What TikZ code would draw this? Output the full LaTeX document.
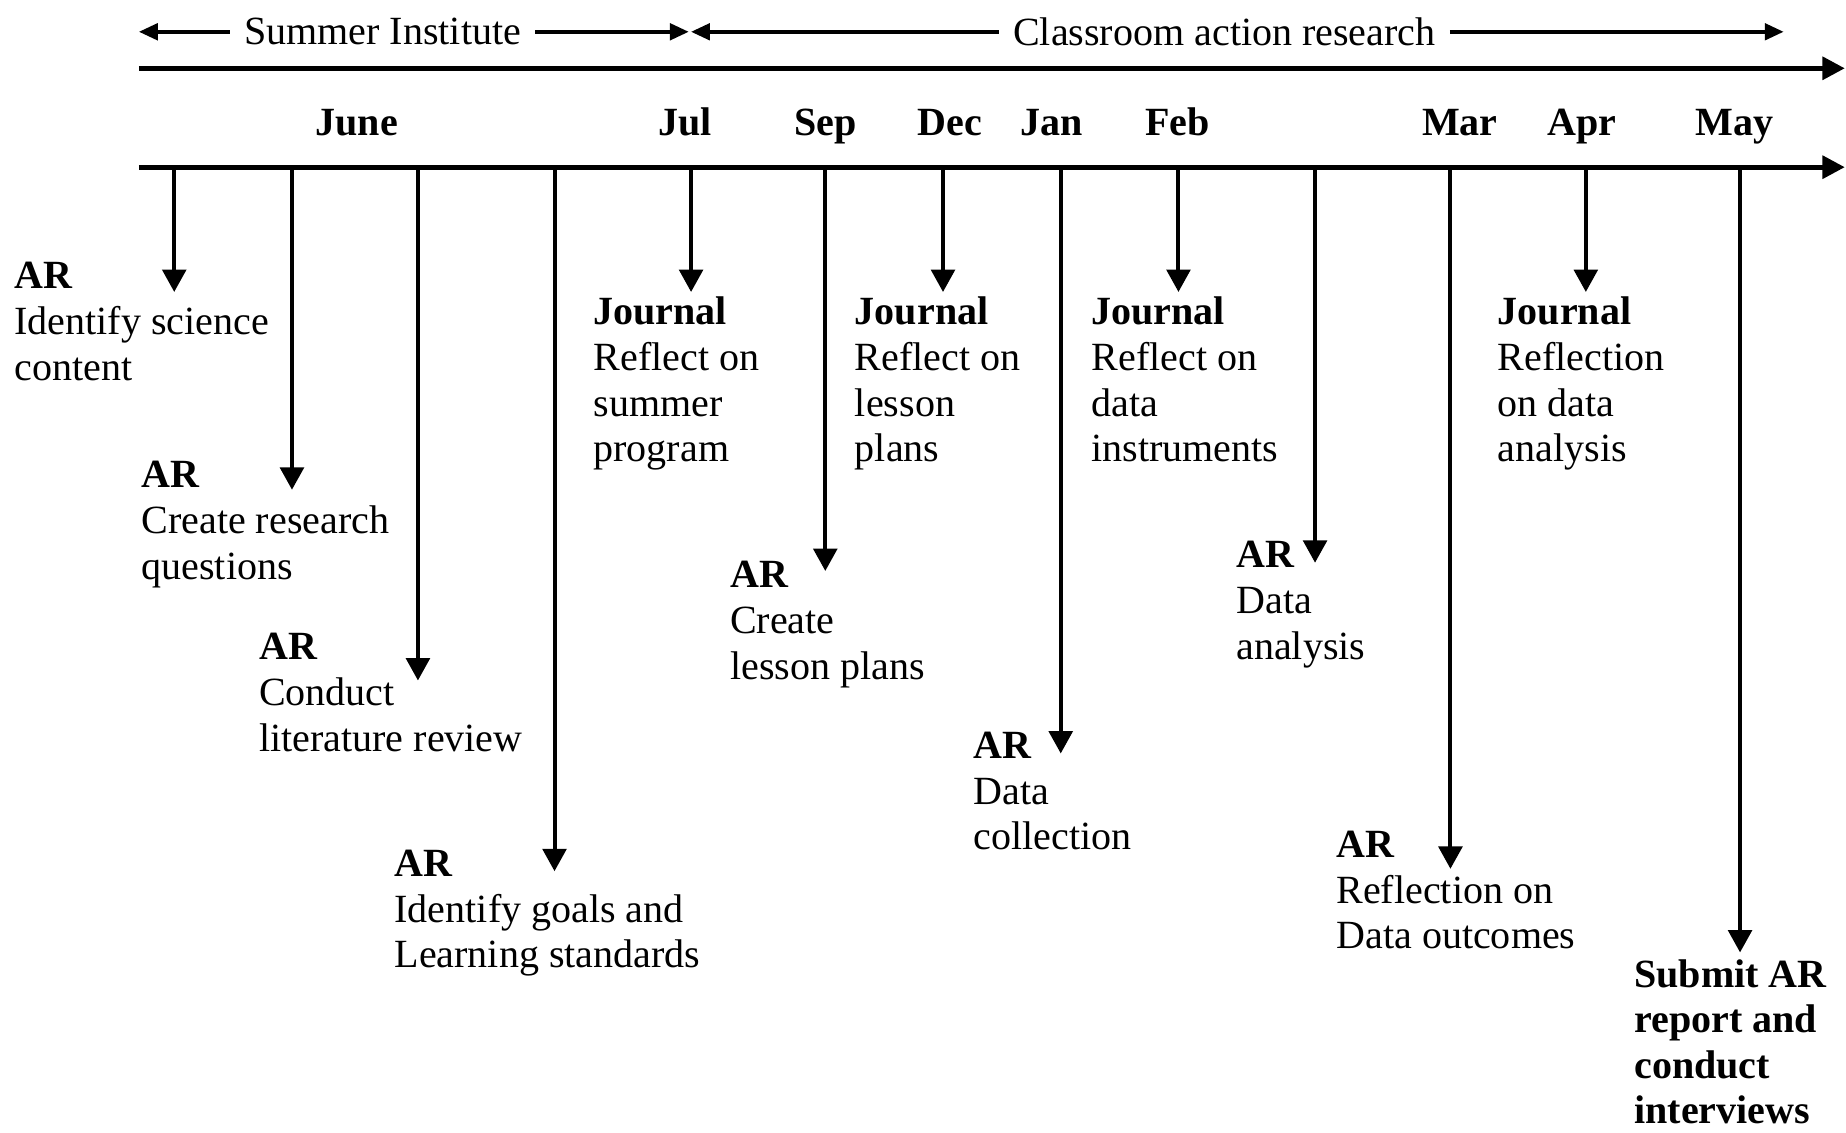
\documentclass[tikz,border=0pt]{standalone}
\usepackage{fontspec}
\setmainfont{Liberation Serif}
\usetikzlibrary{arrows.meta}

\begin{document}
\begin{tikzpicture}[x=1pt,y=-1pt,
  every node/.style={inner sep=0pt, font=\fontsize{34}{38.8}\selectfont},
  lbl/.style={anchor=north west, align=left},
  month/.style={anchor=base, font=\fontsize{34}{38.8}\selectfont\bfseries},
  axis/.style={line width=4.2pt, -{Triangle[length=19pt,width=19pt]}},
  drop/.style={line width=3.4pt, -{Triangle[length=19pt,width=20pt]}},
  span/.style={line width=3pt, -{Triangle[length=16pt,width=14pt]}},
]
\fill[white] (0,0) rectangle (1568,962);
\useasboundingbox (0,0) rectangle (1568,962);

% period spans
\node[inner xsep=12pt] (si) at (325,27) {Summer Institute};
\node[inner xsep=12pt] (car) at (1040,27) {Classroom action research};
\coordinate (siL) at (118,27);
\coordinate (siR) at (585,27);
\coordinate (carL) at (587,27);
\coordinate (carR) at (1515,27);
\draw[span] (si.west) -- (siL);
\draw[span] (si.east) -- (siR);
\draw[span] (car.west) -- (carL);
\draw[span] (car.east) -- (carR);

% time axes
\coordinate (a0) at (118,58);
\coordinate (a1) at (1567,58);
\coordinate (b0) at (118,142);
\coordinate (b1) at (1567,142);
\draw[axis] (a0) -- (a1);
\draw[axis] (b0) -- (b1);

% months
\foreach \m/\x in {June/303, Jul/582, Sep/701, Dec/807, Jan/893, Feb/1000, Mar/1240, Apr/1344, May/1473}
  \node[month] (m\m) at (\x,115) {\m};

% drop arrows from the axis
\foreach \i/\x/\y in {1/148/248, 2/248/416, 3/355/578, 4/471/740, 5/587/248, 6/701/485,
                      7/801/248, 8/901/640, 9/1001/248, 10/1117/478, 11/1232/738,
                      12/1347/248, 13/1478/809} {
  \coordinate (t\i) at (\x,142);
  \coordinate (e\i) at (\x,\y);
  \draw[drop] (t\i) -- (e\i);
}

% activity labels (top edge of the first line)
\node[lbl] (n1) at (12,222.7) {\textbf{AR}\\Identify science\\content};
\node[lbl] (n2) at (120,391.7) {\textbf{AR}\\Create research\\questions};
\node[lbl] (n3) at (220,537.7) {\textbf{AR}\\Conduct\\literature review};
\node[lbl] (n4) at (335,721.7) {\textbf{AR}\\Identify goals and\\Learning standards};
\node[lbl] (n5) at (504,252) {\textbf{Journal}\\Reflect on\\summer\\program};
\node[lbl] (n6) at (620,476.7) {\textbf{AR}\\Create\\lesson plans};
\node[lbl] (n7) at (726,252) {\textbf{Journal}\\Reflect on\\lesson\\plans};
\node[lbl] (n8) at (827,621.7) {\textbf{AR}\\Data\\collection};
\node[lbl] (n9) at (927,252) {\textbf{Journal}\\Reflect on\\data\\instruments};
\node[lbl] (n10) at (1050,459.7) {\textbf{AR}\\Data\\analysis};
\node[lbl] (n11) at (1135,705.7) {\textbf{AR}\\Reflection on\\Data outcomes};
\node[lbl] (n12) at (1272,252) {\textbf{Journal}\\Reflection\\on data\\analysis};
\node[lbl, font=\fontsize{34}{38.5}\selectfont\bfseries] (n13) at (1388,815) {Submit AR\\report and\\conduct\\interviews};
\end{tikzpicture}
\end{document}
